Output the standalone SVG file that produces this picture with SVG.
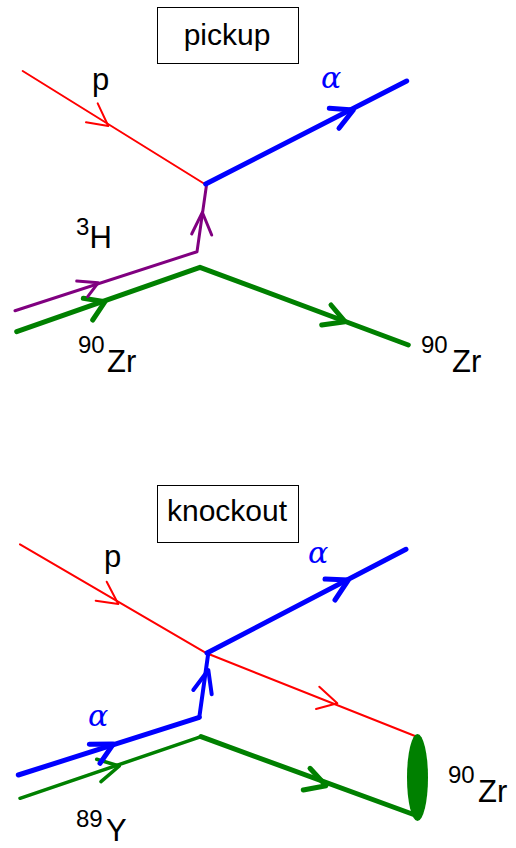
<svg xmlns="http://www.w3.org/2000/svg" width="516" height="848" viewBox="0 0 516 848">
<style>
.box{fill:#fff;stroke:#000;stroke-width:1}
.t{font-family:"Liberation Sans",Arial,sans-serif;font-size:30px;fill:#000}
.lb{font-size:31px}
.sup{font-size:24px}
.al{font-family:"DejaVu Serif","Liberation Serif",serif;font-style:italic;font-size:30px;fill:#0000ff}
path{fill:none;stroke-linecap:round;stroke-linejoin:round}
.red{stroke:#ff0000;stroke-width:2}
.blue{stroke:#0000ff;stroke-width:5}
.blue4{stroke:#0000ff;stroke-width:4}
.pur{stroke:#800080;stroke-width:3}
.grn{stroke:#008000;stroke-width:5}
.grn3{stroke:#008000;stroke-width:3.5}
</style>
<g id="connectors">
<!-- top panel -->
<path class="red" d="M22.7,71 L205.5,184.5"/>
<path class="red" d="M97.7,103.3 L108.3,126 L86,122.3"/>
<path class="grn" d="M16.7,331.7 L200,267.3 L408.3,345"/>
<path class="grn" d="M83.3,298.3 L105,301.7 L92.7,320"/>
<path class="grn" d="M331,305 L345,321.7 L321.7,325"/>
<path class="pur" d="M15,310.7 L197,251.7 L206.5,185"/>
<path class="pur" d="M76.7,281 L98.3,282.7 L87.7,296.7"/>
<path class="pur" d="M191.7,234 L202.3,212.3 L211.7,235"/>
<path class="blue" d="M205.7,184 L406.7,81"/>
<path class="blue" d="M329.3,108.3 L353.3,110 L339,128.3"/>
<!-- bottom panel -->
<path class="red" d="M20,544.3 L206.7,653.3 L415,736"/>
<path class="red" d="M106.7,581.7 L118.3,604 L95.7,600.7"/>
<path class="red" d="M319.3,686.7 L337.3,703.3 L316,709"/>
<path class="grn3" d="M20,798.3 L201,736.7"/>
<path class="grn" d="M201,736.7 L415,815"/>
<path class="grn3" d="M96.7,759.3 L119.3,766 L101,781.7"/>
<path class="grn" d="M310,768.3 L326,785.7 L303.3,790"/>
<path class="blue" d="M18.3,775 L199.3,717.3"/>
<path class="blue4" d="M199.3,717.3 L208.3,653"/>
<path class="blue" d="M89.3,744.3 L113.3,744 L100,763.3"/>
<path class="blue4" d="M193.3,690 L208.3,670 L211.7,694.3"/>
<path class="blue" d="M207,653 L406,549.3"/>
<path class="blue" d="M325,579 L348.3,580 L335,600"/>
</g>
<g id="pickup">
<rect class="box" x="157.5" y="7.5" width="141" height="56"/>
<text class="t" x="227" y="45" text-anchor="middle">pickup</text>
</g>
<g id="p-top"><text class="t lb" x="92" y="90">p</text></g>
<g id="alpha-top"><text class="al" x="321" y="88">α</text></g>
<g id="h3"><text class="t lb"><tspan class="sup" x="76" y="235">3</tspan><tspan x="89.5" y="248">H</tspan></text></g>
<g id="zr90-left"><text class="t lb"><tspan class="sup" x="78" y="353">90</tspan><tspan x="107" y="372">Zr</tspan></text></g>
<g id="zr90-right"><text class="t lb"><tspan class="sup" x="421" y="353">90</tspan><tspan x="452" y="372">Zr</tspan></text></g>
<g id="knockout">
<rect class="box" x="157.5" y="485.5" width="141" height="57"/>
<text class="t" x="227" y="521" text-anchor="middle">knockout</text>
</g>
<g id="p-bottom"><text class="t lb" x="104" y="567">p</text></g>
<g id="alpha-bottom-out"><text class="al" x="308" y="563">α</text></g>
<g id="alpha-bottom-in"><text class="al" x="88" y="726">α</text></g>
<g id="y89"><text class="t lb"><tspan class="sup" x="76" y="827">89</tspan><tspan x="106" y="841">Y</tspan></text></g>
<g id="zr90-target">
<ellipse cx="417.5" cy="777.5" rx="10.5" ry="43.5" fill="#008000"/>
<text class="t lb"><tspan class="sup" x="448" y="783">90</tspan><tspan x="478" y="802">Zr</tspan></text>
</g>
</svg>
